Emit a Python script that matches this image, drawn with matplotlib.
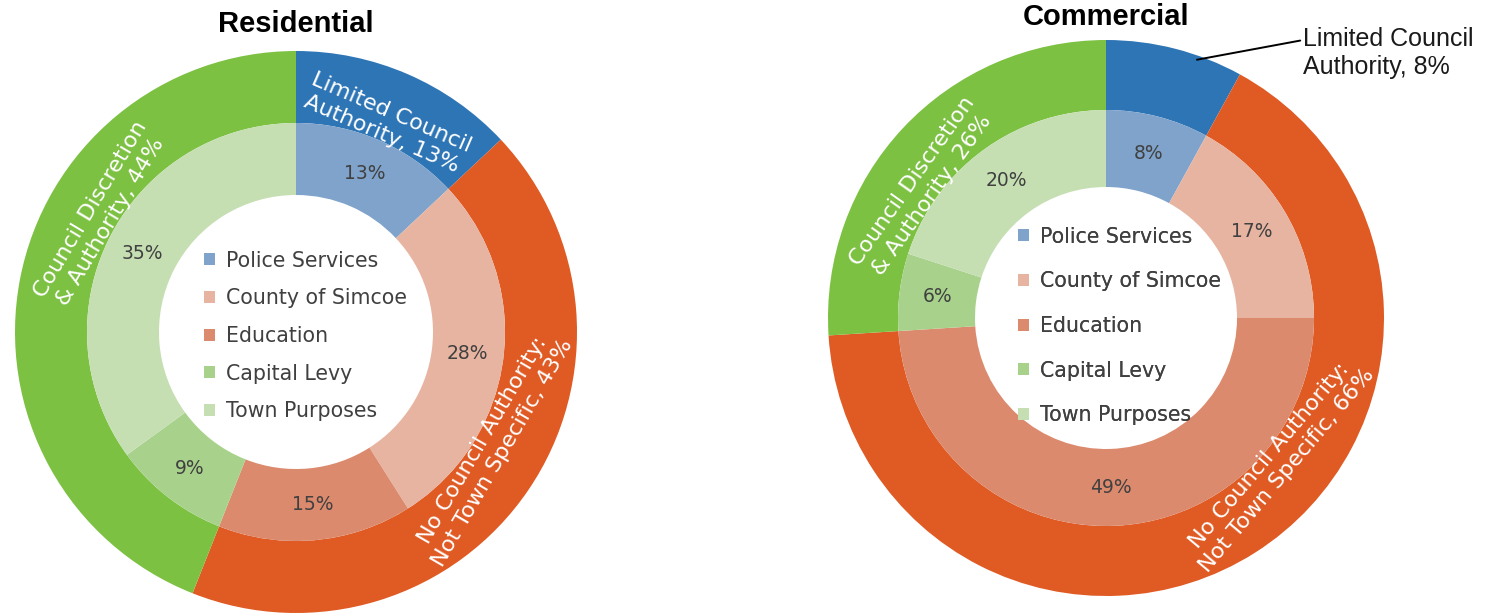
import numpy as np
import matplotlib
matplotlib.use('Agg')
import matplotlib.pyplot as plt

# inner ring (detail) categories
categories = ['Police Services', 'County of Simcoe', 'Education', 'Capital Levy', 'Town Purposes']
residential_inner = [13, 28, 15, 9, 35]
commercial_inner = [8, 17, 49, 6, 20]

# outer ring (authority groups)
groups = ['Limited Council\nAuthority', 'No Council Authority:\nNot Town Specific', 'Council Discretion\n& Authority']
residential_outer = [13, 43, 44]
commercial_outer = [8, 66, 26]

inner_colors = ['#7fa3cb', '#e7b4a1', '#dc8a6d', '#a8d28b', '#c5dfb3']
outer_colors = ['#2e75b6', '#e05a24', '#7cc142']

text_grey = '#404040'


def DrawDonut(ax, cx, cy, r_out, r_mid, r_in, inner, outer, title, title_y,
              label_shift, legend_x, legend_dy, legend_gap, callout=None):

    # outer ring
    outer_wedges, _ = ax.pie(outer, radius=r_out, center=(cx, cy), startangle=90,
                             counterclock=False, colors=outer_colors,
                             wedgeprops=dict(width=r_out - r_mid, edgecolor='none'))

    # inner ring with percentage labels
    inner_wedges, _, pcts = ax.pie(inner, radius=r_mid, center=(cx, cy), startangle=90,
                                   counterclock=False, colors=inner_colors,
                                   autopct=lambda p: '%.0f%%' % p,
                                   pctdistance=(r_mid + r_in) / 2.0 / r_mid,
                                   wedgeprops=dict(width=r_mid - r_in, edgecolor='none'))
    for t in pcts:
        t.set_color(text_grey)
        t.set_fontsize(13.5)

    # labels on the outer ring, turned along the ring
    total = float(sum(outer))
    start = 0.0
    for i in range(len(outer)):
        mid = (start + outer[i] / 2.0) / total * 360.0
        start += outer[i]
        text = '%s, %d%%' % (groups[i], outer[i])
        if callout is not None and i == 0:
            theta = np.radians(mid + callout[0])
            px = cx + r_out * 0.985 * np.sin(theta)
            py = cy + r_out * 0.985 * np.cos(theta)
            ax.annotate(text, xy=(px, py), xytext=callout[1], textcoords='data',
                        ha='left', va='center', fontsize=18, color='#1a1a1a',
                        family='Liberation Sans', linespacing=1.2,
                        arrowprops=dict(arrowstyle='-', color='black', lw=1.4,
                                        relpos=(0, 0.75), shrinkA=0, shrinkB=0))
            continue
        ang = mid + label_shift[i]
        theta = np.radians(ang)
        r_lab = r_out * 0.81
        px = cx + r_lab * np.sin(theta)
        py = cy + r_lab * np.cos(theta)
        rot = ((-ang + 90) % 180) - 90
        ax.text(px, py, text, ha='center', va='center', rotation=rot,
                rotation_mode='anchor', color='white', fontsize=16,
                linespacing=1.22)

    ax.text(cx, title_y, title, ha='center', va='center', fontsize=21,
            fontweight='bold', family='Liberation Sans', color='black')

    leg = ax.legend(inner_wedges, categories, loc='center left',
                    bbox_to_anchor=(legend_x, cy + legend_dy), bbox_transform=ax.transData,
                    frameon=False, fontsize=14.8, handlelength=0.52,
                    handleheight=0.52, handletextpad=0.55, labelspacing=legend_gap,
                    borderpad=0, borderaxespad=0)
    for t in leg.get_texts():
        t.set_color(text_grey)
    ax.add_artist(leg)


def main():

    fig = plt.figure(figsize=(14.85, 6.16), dpi=100)
    ax = fig.add_axes([0, 0, 1, 1])

    DrawDonut(ax, 296, 284, 281, 209, 137, residential_inner, residential_outer,
              'Residential', 592, [0, -4, 20], 204, -4, 0.86)
    DrawDonut(ax, 1106, 298, 278, 208, 131, commercial_inner, commercial_outer,
              'Commercial', 599, [0, -17.5, -8], 1018, -8, 1.2,
              callout=(5, (1303, 563)))

    ax.set_xlim(0, 1485)
    ax.set_ylim(0, 616)
    ax.set_aspect('equal')
    ax.axis('off')

    fig.savefig('out.png', dpi=100)


main()
